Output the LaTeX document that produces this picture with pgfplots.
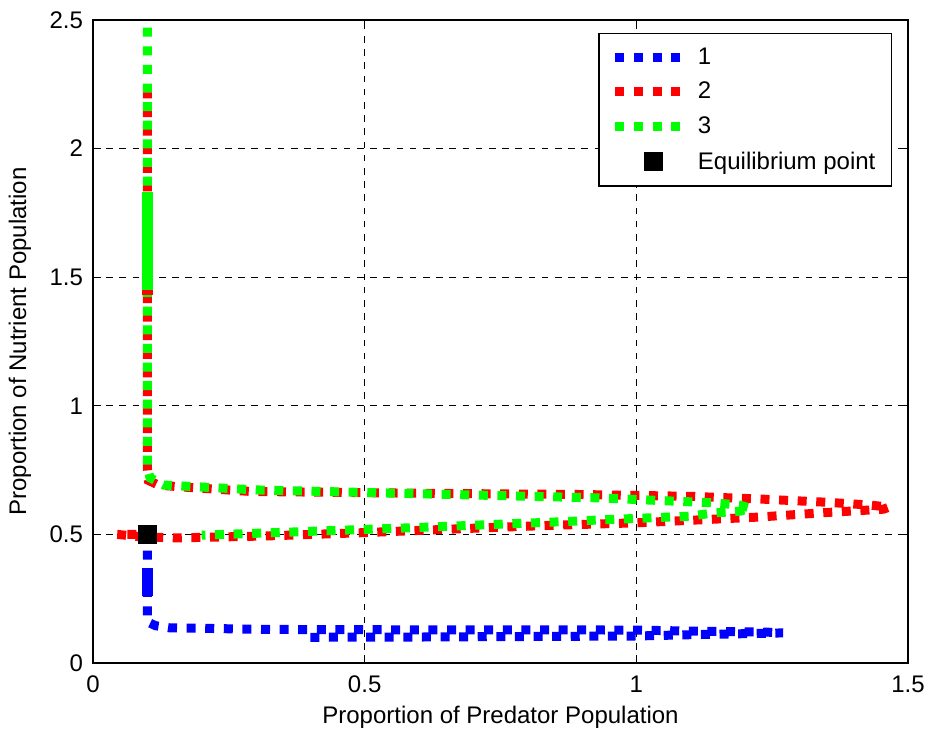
\documentclass[border=0pt]{standalone}
\usepackage{fontspec}
\setmainfont{Liberation Sans}
\usepackage{pgfplots}
\pgfplotsset{compat=1.18}
\definecolor{mblue}{RGB}{0,0,255}
\definecolor{mred}{RGB}{255,0,0}
\definecolor{mgreen}{RGB}{0,255,0}
\pgfplotsset{
  dotted curve/.style={line width=4.5pt, line cap=butt, dash pattern=on 4.5pt off 4.8pt,
    legend image code/.code={\draw[##1] (0pt,0pt) -- (37pt,0pt);}},
  eqmark legend/.style={legend image code/.code={\draw[##1] plot coordinates {(19pt,0pt)};}},
}
\pgfplotstableread{
x y
0.40 0.100
0.60 0.101
0.80 0.103
1.00 0.105
1.10 0.110
1.20 0.114
1.27 0.117
1.24 0.120
1.10 0.124
1.00 0.128
0.80 0.129
0.60 0.129
0.40 0.130
0.30 0.131
0.20 0.135
0.14 0.137
0.115 0.145
0.100 0.160
0.100 0.200
0.100 0.260
0.100 0.370
0.100 0.490
}\blue
\pgfplotstableread{
x y
0.100 2.23
0.100 1.43
0.100 0.76
0.102 0.71
0.12 0.692
0.16 0.685
0.29 0.667
0.60 0.660
0.90 0.655
1.10 0.648
1.233 0.637
1.35 0.625
1.43 0.614
1.465 0.606
1.455 0.598
1.43 0.595
1.35 0.585
1.222 0.567
1.00 0.545
0.84 0.535
0.70 0.524
0.50 0.507
0.32 0.494
0.15 0.486
0.08 0.492
0.045 0.500
0.100 0.500
}\red
\pgfplotstableread{
x y
0.100 2.47
0.100 0.76
0.105 0.72
0.13 0.692
0.30 0.673
0.60 0.658
0.93 0.642
1.14 0.623
1.19 0.614
1.21 0.602
1.19 0.590
1.14 0.583
1.10 0.571
0.93 0.556
0.86 0.549
0.60 0.527
0.31 0.505
0.20 0.497
}\green
\begin{document}
\begin{tikzpicture}
\begin{axis}[
  scale only axis, width=407.5pt, height=321.5pt,
  xmin=0, xmax=1.5, ymin=0, ymax=2.5,
  xtick={0,0.5,1,1.5}, ytick={0,0.5,1,1.5,2,2.5},
  xticklabels={0,0.5,1,1.5}, yticklabels={0,0.5,1,1.5,2,2.5},
  tick align=inside, xtick pos=both, ytick pos=both,
  major tick length=4pt,
  tick style={black, line width=0.5pt},
  axis line style={black, line width=0.6pt},
  grid=major,
  major grid style={black, line width=0.4pt, dash pattern=on 3.3pt off 3.3pt},
  tick label style={font=\fontsize{12}{14}\selectfont},
  xticklabel style={yshift=-3pt},
  yticklabel style={xshift=-1.5pt},
  xlabel={Proportion of Predator Population},
  ylabel={Proportion of Nutrient Population},
  label style={font=\fontsize{12}{14}\selectfont},
  xlabel style={at={(axis description cs:0.5,-0.084)}, anchor=center},
  ylabel style={at={(axis description cs:-0.0896,0.5)}, anchor=center},
  legend style={at={(axis description cs:1,1)}, anchor=north east, xshift=-8pt, yshift=-6.5pt,
    draw=black, line width=0.6pt, font=\fontsize{12}{14}\selectfont,
    inner xsep=6pt, inner ysep=5pt, row sep=3.5pt},
  legend cell align=left,
]
\coordinate (SW) at (rel axis cs:0,0);
\coordinate (NE) at (rel axis cs:1,1);
\addplot[mblue, dotted curve] table[x=x,y=y] {\blue};
\addlegendentry{1}
\addplot[mred, dotted curve] table[x=x,y=y] {\red};
\addlegendentry{2}
\addplot[mgreen, dotted curve] table[x=x,y=y] {\green};
\addlegendentry{3}
\addplot[mblue, line width=5.2pt, forget plot] coordinates {(0.1,0.26) (0.1,0.37)};
\addplot[mred, line width=5.2pt, forget plot] coordinates {(0.1,1.43) (0.1,1.48)};
\addplot[mgreen, line width=5.8pt, forget plot] coordinates {(0.1,1.45) (0.1,1.83)};
\addplot[only marks, mark=square*, mark size=4.5pt, black,
  mark options={rounded corners=1.8pt}, eqmark legend]
  coordinates {(0.1,0.5)};
\addlegendentry{Equilibrium point}
\end{axis}
\pgfresetboundingbox
\path[use as bounding box] ([shift={(-46.5pt,-34.5pt)}]SW) rectangle ([shift={(11pt,10pt)}]NE);
\end{tikzpicture}
\end{document}
